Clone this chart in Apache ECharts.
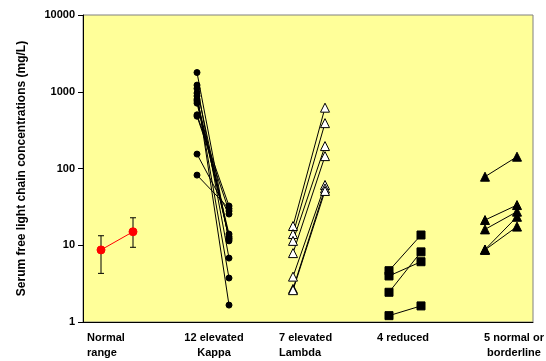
<!DOCTYPE html>
<html>
<head>
<meta charset="utf-8">
<script src="https://cdn.jsdelivr.net/npm/echarts@6/dist/echarts.min.js"></script>
<style>html,body{margin:0;padding:0;background:#fff}#c{width:546px;height:361px}</style>
</head>
<body>
<div id="c"></div>
<script>
// Group labels
var groupLabels = ["Normal\nrange", "12 elevated\nKappa", "7 elevated\nLambda", "4 reduced", "5 normal or\nborderline"];
// x positions (before, after) of each group
var groupX = [[1, 2], [4, 5], [7, 8], [10, 11], [13, 14]];
// Normal range: means and error bar limits (kappa, lambda)
var normalMean = [8.7, 15.0];
var normalLow = [4.3, 9.4];
var normalHigh = [13.3, 22.8];
// 12 elevated kappa: before / after
var kappaBefore = [1780, 1220, 1100, 960, 880, 800, 760, 710, 500, 480, 154, 82];
var kappaAfter  = [11.4, 6.8, 12.0, 1.66, 3.74, 14.0, 12.4, 13.0, 32.5, 27.9, 25.5, 30.0];
// 7 elevated lambda
var lambdaBefore = [17.8, 14.0, 11.4, 7.9, 3.9, 2.7, 2.6];
var lambdaAfter  = [620, 390, 196, 145, 61, 55, 51];
// 4 reduced
var reducedBefore = [4.66, 3.98, 2.44, 1.21];
var reducedAfter  = [13.6, 6.1, 8.2, 1.62];
// 5 normal or borderline
var borderBefore = [78.2, 21.3, 16.1, 8.8, 8.7];
var borderAfter  = [142.5, 33.4, 27.4, 23.5, 17.5];
var yTicks = [1, 10, 100, 1000, 10000];

var chart = echarts.init(document.getElementById('c'));
var series = [];
function pairSeries(before, after, gx, symbol, size, fill) {
  for (var i = 0; i < before.length; i++) {
    series.push({
      type: 'line', silent: true, animation: false,
      data: [[gx[0], before[i]], [gx[1], after[i]]],
      symbol: symbol, symbolSize: size,
      lineStyle: {color: '#000', width: 1},
      itemStyle: {color: fill, borderColor: '#000', borderWidth: 1}
    });
  }
}
pairSeries(kappaBefore, kappaAfter, groupX[1], 'circle', 6, '#000');
pairSeries(lambdaBefore, lambdaAfter, groupX[2], 'triangle', 9, '#fff');
pairSeries(reducedBefore, reducedAfter, groupX[3], 'rect', 8, '#000');
pairSeries(borderBefore, borderAfter, groupX[4], 'triangle', 9, '#000');

// error bars for normal range
series.push({
  type: 'custom', animation: false, silent: true,
  data: normalMean.map(function (m, i) { return [groupX[0][i], normalLow[i], normalHigh[i]]; }),
  renderItem: function (params, api) {
    var lo = api.coord([api.value(0), api.value(1)]);
    var hi = api.coord([api.value(0), api.value(2)]);
    var w = 3;
    var st = {stroke: '#000', lineWidth: 1};
    return {type: 'group', children: [
      {type: 'line', shape: {x1: lo[0], y1: lo[1], x2: hi[0], y2: hi[1]}, style: st},
      {type: 'line', shape: {x1: lo[0] - w, y1: lo[1], x2: lo[0] + w, y2: lo[1]}, style: st},
      {type: 'line', shape: {x1: hi[0] - w, y1: hi[1], x2: hi[0] + w, y2: hi[1]}, style: st}
    ]};
  },
  z: 1
});
series.push({
  type: 'line', silent: true, animation: false, z: 3,
  data: normalMean.map(function (m, i) { return [groupX[0][i], m]; }),
  symbol: 'circle', symbolSize: 8,
  lineStyle: {color: '#ff0000', width: 1},
  itemStyle: {color: '#ff0000', borderColor: '#ff0000'}
});

// group label graphics
var labelPos = [{x: 87, align: 'left'}, {x: 214, align: 'center'}, {x: 279, align: 'left'}, {x: 403, align: 'center'}, {x: 514, align: 'center'}];
var graphics = groupLabels.map(function (t, i) {
  return {
    type: 'text', x: labelPos[i].x, y: 330,
    style: {text: t, font: 'bold 11px Arial, "Liberation Sans", sans-serif', fill: '#000',
      textAlign: labelPos[i].align, textVerticalAlign: 'top', lineHeight: 15}
  };
});

chart.setOption({
  animation: false,
  grid: {left: 83, right: 13, top: 15, bottom: 39, show: true, backgroundColor: '#FFFF99', borderColor: '#808080', borderWidth: 1},
  xAxis: {
    type: 'value', min: 0.4375, max: 14.5,
    axisLine: {show: true, onZero: false, lineStyle: {color: '#000', width: 1}},
    axisTick: {show: false}, axisLabel: {show: false}, splitLine: {show: false}
  },
  yAxis: {
    type: 'log', logBase: 10, min: yTicks[0], max: yTicks[yTicks.length - 1],
    name: 'Serum free light chain concentrations (mg/L)',
    nameLocation: 'middle', nameGap: 55, nameRotate: 90,
    nameTextStyle: {fontFamily: 'Arial, "Liberation Sans", sans-serif', fontWeight: 'bold', fontSize: 12, color: '#000'},
    axisLine: {show: true, lineStyle: {color: '#000', width: 1}},
    axisTick: {show: true, length: 5, lineStyle: {color: '#000'}},
    minorTick: {show: false},
    axisLabel: {fontFamily: 'Arial, "Liberation Sans", sans-serif', fontWeight: 'bold', fontSize: 11, color: '#000', margin: 8,
      formatter: function (v) { return String(Math.round(v)); }},
    splitLine: {show: false}
  },
  graphic: graphics,
  series: series
});
</script>
</body>
</html>
